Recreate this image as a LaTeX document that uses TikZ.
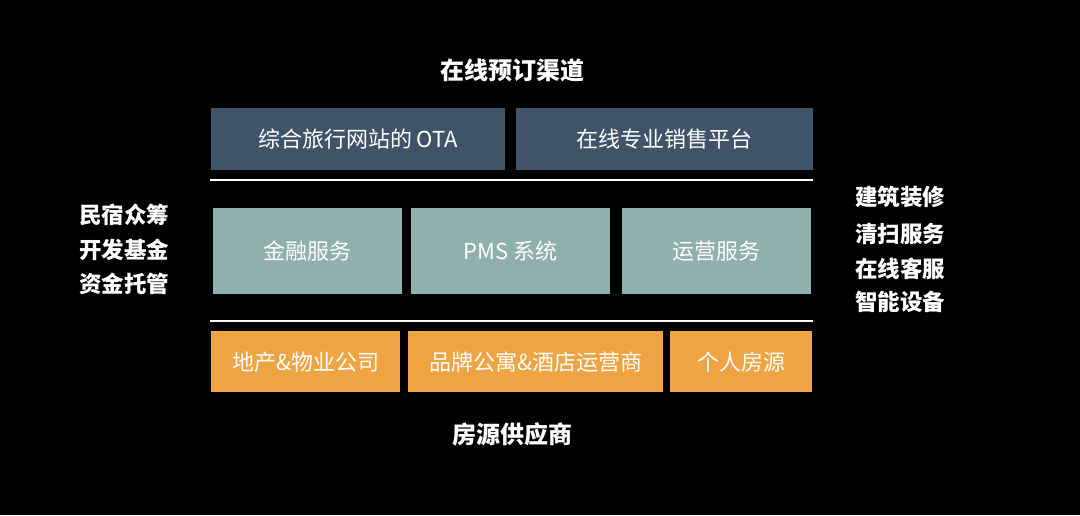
\documentclass[tikz,border=0pt]{standalone}
\usepackage{fontspec}
\setmainfont{Noto Sans CJK SC}
\usetikzlibrary{positioning}
\definecolor{otaBlue}{HTML}{3F5468}
\definecolor{svcTeal}{HTML}{8FB0AC}
\definecolor{srcOrange}{HTML}{EFA443}
\tikzset{
    box/.style={rectangle, inner sep=0pt, anchor=north west, text=white, font=\fontsize{22}{26}\selectfont},
    blueBox/.style={box, fill=otaBlue},
    tealBox/.style={box, fill=svcTeal},
    orangeBox/.style={box, fill=srcOrange},
    sideText/.style={text=white, font=\bfseries\fontsize{22.5}{26}\selectfont, align=center},
    titleText/.style={text=white, font=\bfseries\fontsize{24}{28}\selectfont},
    sepLine/.style={draw=white, line width=1.6pt},
}
\begin{document}
\begin{tikzpicture}[x=1pt, y=-1pt]
        \fill[black] (0,0) rectangle (1080,515);
        \useasboundingbox (0,0) rectangle (1080,515);

        \node[titleText] (chan) at (512, 70) {在线预订渠道};

        \node[blueBox, minimum width=294, minimum height=62] (ota) at (211, 108) {综合旅行网站的 OTA};
        \node[blueBox, minimum width=297, minimum height=62] (sale) at (516, 108) {在线专业销售平台};

        \coordinate (l1a) at (210, 180);
        \coordinate (l1b) at (813, 180);
        \draw[sepLine] (l1a) -- (l1b);

        \node[tealBox, minimum width=189, minimum height=86] (fin) at (213, 208) {金融服务};
        \node[tealBox, minimum width=199, minimum height=86] (pms) at (411, 208) {PMS 系统};
        \node[tealBox, minimum width=189, minimum height=86] (ops) at (622, 208) {运营服务};

        \coordinate (l2a) at (210, 321);
        \coordinate (l2b) at (813, 321);
        \draw[sepLine] (l2a) -- (l2b);

        \node[orangeBox, minimum width=189, minimum height=61] (prop) at (211, 331) {地产\&物业公司};
        \node[orangeBox, minimum width=255, minimum height=61] (brand) at (408, 331) {品牌公寓\&酒店运营商};
        \node[orangeBox, minimum width=142, minimum height=61] (indiv) at (670, 331) {个人房源};

        \node[titleText] (supply) at (512, 434) {房源供应商};

        \node[sideText] (fund1) at (124, 215) {民宿众筹};
        \node[sideText] (fund2) at (124, 250) {开发基金};
        \node[sideText] (fund3) at (124, 284) {资金托管};

        \node[sideText] (svc1) at (900, 197) {建筑装修};
        \node[sideText] (svc2) at (900, 234) {清扫服务};
        \node[sideText] (svc3) at (900, 269) {在线客服};
        \node[sideText] (svc4) at (900, 302) {智能设备};

    \end{tikzpicture}
\end{document}
